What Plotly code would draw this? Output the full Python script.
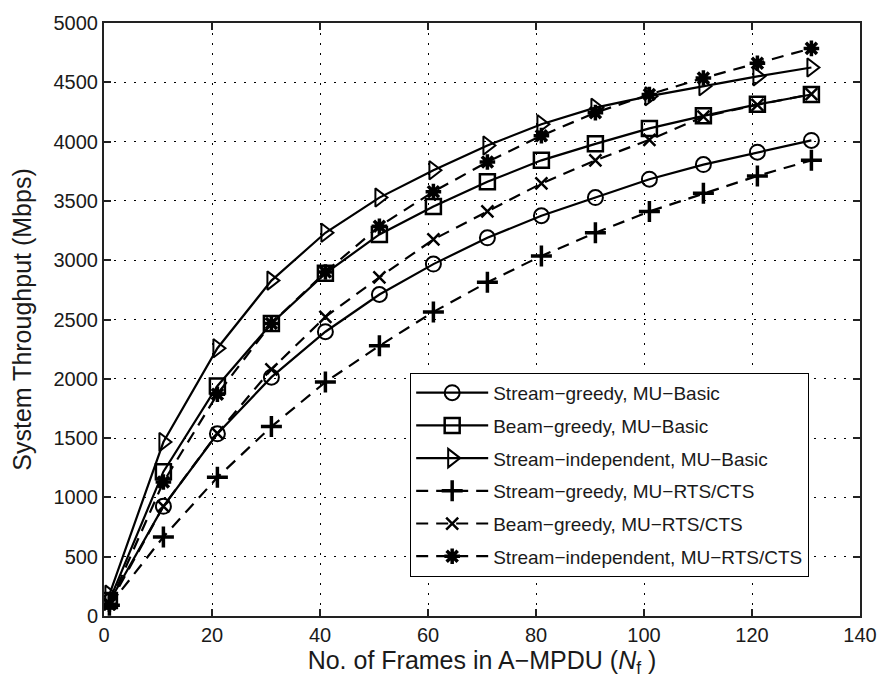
import plotly.graph_objects as go

# Number of frames aggregated in one A-MPDU
frames = [1, 11, 21, 31, 41, 51, 61, 71, 81, 91, 101, 111, 121, 131]

# System throughput (Mbps) for each scheme
stream_greedy_basic = [120, 925, 1536, 2014, 2397, 2711, 2967, 3189, 3375, 3528, 3683, 3806, 3911, 4010]
beam_greedy_basic = [130, 1217, 1939, 2467, 2889, 3217, 3453, 3661, 3842, 3981, 4111, 4217, 4314, 4397]
stream_indep_basic = [180, 1467, 2258, 2828, 3231, 3528, 3758, 3967, 4147, 4286, 4383, 4467, 4550, 4625]
stream_greedy_rts = [90, 667, 1169, 1597, 1972, 2278, 2564, 2814, 3036, 3231, 3411, 3564, 3711, 3842]
beam_greedy_rts = [100, 925, 1540, 2080, 2522, 2856, 3175, 3411, 3647, 3842, 4015, 4210, 4310, 4400]
stream_indep_rts = [100, 1130, 1870, 2467, 2900, 3286, 3578, 3828, 4050, 4244, 4397, 4536, 4661, 4786]

x_ticks = [0, 20, 40, 60, 80, 100, 120, 140]
y_ticks = [0, 500, 1000, 1500, 2000, 2500, 3000, 3500, 4000, 4500, 5000]

FONT = "Liberation Sans, Arial, sans-serif"
TEXT = "#1a1a1a"
DASHED = "12px,8px"

# name, values, dash, marker symbol, marker size, marker line width
series = [
    ("Stream\u2212greedy, MU\u2212Basic", stream_greedy_basic, "solid", "circle-open", 15, 2),
    ("Beam\u2212greedy, MU\u2212Basic", beam_greedy_basic, "solid", "square-open", 15, 2.5),
    ("Stream\u2212independent, MU\u2212Basic", stream_indep_basic, "solid", "triangle-right-open", 16, 2),
    ("Stream\u2212greedy, MU\u2212RTS/CTS", stream_greedy_rts, DASHED, "cross-thin-open", 15, 3.5),
    ("Beam\u2212greedy, MU\u2212RTS/CTS", beam_greedy_rts, DASHED, "x-thin-open", 12, 2.5),
    ("Stream\u2212independent, MU\u2212RTS/CTS", stream_indep_rts, DASHED, "asterisk-open", 13, 3.5),
]

fig = go.Figure()
for i, (name, values, dash, symbol, size, mlw) in enumerate(series):
    fig.add_trace(go.Scatter(
        x=frames, y=values, name=name, mode="lines+markers",
        legendgroup=f"g{i}",
        line=dict(color="black", width=2.2, dash=dash),
        marker=dict(symbol=symbol, size=size, color="black",
                    line=dict(color="black", width=mlw)),
    ))

axis_common = dict(
    showline=True, linecolor="#222", linewidth=2, mirror="ticks",
    ticks="inside", ticklen=7, tickcolor="#222", tickwidth=1.5,
    showgrid=True, gridcolor="black", griddash="2px,8px", gridwidth=1.3,
    zeroline=False,
    tickfont=dict(family=FONT, size=20, color=TEXT),
)

fig.update_xaxes(
    range=[0, 140], tickvals=x_ticks, ticktext=[str(v) for v in x_ticks],
    title=dict(text="No. of Frames in A\u2212MPDU (<i>N</i><sub>f</sub> )",
               font=dict(family=FONT, size=25, color=TEXT), standoff=2),
    **axis_common,
)
fig.update_yaxes(
    range=[0, 5000], tickvals=y_ticks, ticktext=[str(v) for v in y_ticks],
    title=dict(text="System Throughput (Mbps)",
               font=dict(family=FONT, size=25, color=TEXT), standoff=15),
    **axis_common,
)

fig.update_layout(
    width=889, height=678,
    margin=dict(l=104, r=22, t=16, b=62),
    paper_bgcolor="white", plot_bgcolor="white",
    showlegend=True,
    legend=dict(
        x=0.405, y=0.41, xanchor="left", yanchor="top",
        bgcolor="white", bordercolor="black", borderwidth=1,
        font=dict(family=FONT, size=19, color=TEXT),
        itemwidth=72, tracegroupgap=5,
    ),
)

fig.write_html("out.html")
